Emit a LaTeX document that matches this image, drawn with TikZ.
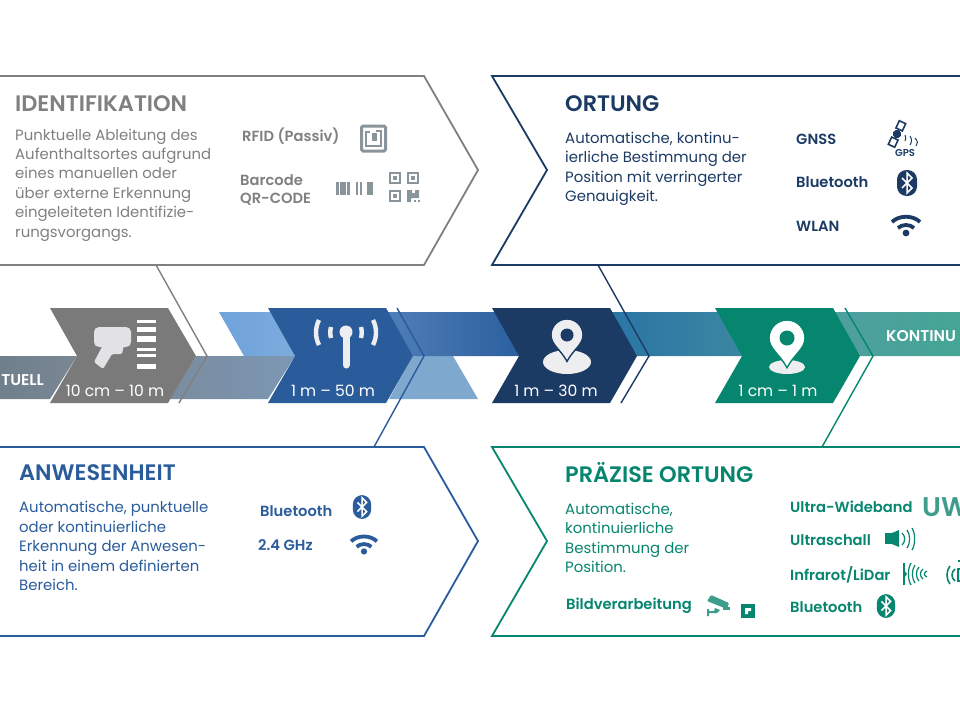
\documentclass[tikz,border=0pt]{standalone}
\usepackage{fontspec}
\setmainfont{Poppins}[BoldFont={Poppins SemiBold}]
\usetikzlibrary{arrows.meta, arrows}
\definecolor{grayline}{HTML}{808080}
\definecolor{grayicon}{HTML}{8A949B}
\definecolor{graychev}{HTML}{7A7A7A}
\definecolor{blueline}{HTML}{2A5C9C}
\definecolor{navyline}{HTML}{1C3B64}
\definecolor{tealline}{HTML}{06856F}
\definecolor{teallight}{HTML}{3F9D8C}
\definecolor{iconwhite}{HTML}{EEEEF0}
\definecolor{bandgrayA}{HTML}{6F7F8C}
\definecolor{bandgrayB}{HTML}{7A8894}
\definecolor{bandmidA}{HTML}{7A8C9F}
\definecolor{bandmidB}{HTML}{7C97B5}
\definecolor{bandlightA}{HTML}{6FA3DB}
\definecolor{bandlightB}{HTML}{7DABDC}
\definecolor{bandlow}{HTML}{7FA8CF}
\definecolor{bandblueA}{HTML}{4F7FB8}
\definecolor{bandblueB}{HTML}{2C5F9F}
\definecolor{bandtealA}{HTML}{2A75A5}
\definecolor{bandtealB}{HTML}{3A87A2}
\definecolor{bandendA}{HTML}{4F9FA0}
\definecolor{bandendB}{HTML}{44A595}
\tikzset{
  boxline/.style={line width=1.8pt, line join=miter},
  boxtitle/.style={anchor=west, inner sep=0pt, font=\fontsize{22.4}{24}\selectfont\bfseries},
  bodytext/.style={anchor=west, inner sep=0pt, align=left, font=\fontsize{14.9}{19.4}\selectfont},
  techlabel/.style={anchor=west, inner sep=0pt, align=left, font=\fontsize{14.7}{18}\selectfont\bfseries},
  rangelabel/.style={inner sep=0pt, text=white, font=\fontsize{15.6}{18}\selectfont},
  bandlabel/.style={inner sep=0pt, text=white, font=\fontsize{15.6}{18}\selectfont\bfseries},
  pics/wlanicon/.style={code={
    \draw[line width=3.8pt] (-14,-4) .. controls (-7,-11) and (7,-11) .. (14,-4);
    \draw[line width=3.8pt] (-8,2) .. controls (-4,-2) and (4,-2) .. (8,2);
    \fill (0,7) circle (3.4);
  }},
  pics/btoothicon/.style={code={
    \fill[rounded corners=9.5pt] (-10,-13) rectangle (10,13);
    \draw[white, line width=1.5pt] (-5,-5) -- (5,5) -- (0,10) -- (0,-10) -- (5,-5) -- (-5,5);
  }},
  pics/pinicon/.style={code={
    \path[pic actions] (0,1.65) .. controls (-.4,.9) and (-1,.6) .. (-1,0) .. controls (-1,-.55) and (-.55,-1) .. (0,-1)
      .. controls (.55,-1) and (1,-.55) .. (1,0) .. controls (1,.6) and (.4,.9) .. (0,1.65) -- cycle;
  }}
}

\begin{document}
\begin{tikzpicture}[x=1pt, y=-1pt]
  \useasboundingbox (0,0) rectangle (960,720);
  \fill[white] (0,0) rectangle (960,720);

  % band behind the chevrons
  \shade[left color=bandgrayA, right color=bandgrayB] (0,356) -- (77,356) -- (50,399) -- (0,399) -- cycle;
  \shade[left color=bandmidA, right color=bandmidB] (170,399) -- (196,356) -- (295,356) -- (268,399) -- cycle;
  \shade[left color=bandlightA, right color=bandlightB] (219,312) -- (272,312) -- (295,356) -- (244,356) -- cycle;
  \fill[bandlow] (389,399) -- (413,356) -- (453,356) -- (478,399) -- cycle;
  \shade[left color=bandblueA, right color=bandblueB] (386,312) -- (500,312) -- (519,356) -- (413,356) -- cycle;
  \shade[left color=bandtealA, right color=bandtealB] (610,312) -- (722,312) -- (742,356) -- (637,356) -- cycle;
  \shade[left color=bandendA, right color=bandendB] (833,312) -- (960,312) -- (960,356) -- (860,356) -- cycle;

  % chevrons
  \fill[graychev] (50,308) -- (168,308) -- (196,356) -- (168,403) -- (50,403) -- (77,356) -- cycle;
  \fill[blueline] (268,308) -- (386,308) -- (413,356) -- (386,403) -- (268,403) -- (295,356) -- cycle;
  \fill[navyline] (492,308) -- (610,308) -- (637,356) -- (610,403) -- (492,403) -- (519,356) -- cycle;
  \fill[tealline] (715,308) -- (833,308) -- (860,356) -- (833,403) -- (715,403) -- (742,356) -- cycle;

  % outlined boxes
  \draw[grayline, boxline] (-5,76) -- (424,76) -- (478,170) -- (424,265) -- (-5,265);
  \draw[grayline, line width=1.4pt] (156,265) -- (207,356) -- (179,403);
  \draw[navyline, boxline] (965,76) -- (492,76) -- (547,170) -- (492,265) -- (965,265);
  \draw[navyline, line width=1.4pt] (598,265) -- (649,356) -- (621,403);
  \draw[blueline, boxline] (-5,447) -- (424,447) -- (478,541) -- (424,636) -- (-5,636);
  \draw[blueline, line width=1.4pt] (374,447) -- (424,356) -- (397,308);
  \draw[tealline, boxline] (965,447) -- (492,447) -- (547,541) -- (492,636) -- (965,636);
  \draw[tealline, line width=1.4pt] (822,447) -- (873,356) -- (845,308);

  % band labels
  \node[bandlabel, anchor=east] (bandleft) at (44,380) {TUELL};
  \node[bandlabel, anchor=west] (bandright) at (886,336) {KONTINU};
  \node[rangelabel] (rangegray) at (115,391) {10 cm – 10 m};
  \node[rangelabel] (rangeblue) at (333,391) {1 m – 50 m};
  \node[rangelabel] (rangenavy) at (556,391) {1 m – 30 m};
  \node[rangelabel] (rangeteal) at (778,391) {1 cm – 1 m};

  % scanner
  \fill[iconwhite!95!black, rounded corners=5pt] (131,327) -- (94,327) -- (94,347) -- (131,347) -- cycle;
  \fill[iconwhite!95!black, rounded corners=1.5pt] (103,345) -- (94,362) -- (103,369) -- (112,354) -- (122,354) -- (124,345) -- cycle;
  \fill[white] (137,320) rectangle (156,323);
  \fill[white] (137,327) rectangle (156,332);
  \fill[white] (137,336) rectangle (156,342);
  \fill[white] (137,348) rectangle (156,351);
  \fill[white] (137,354) rectangle (156,357);
  \fill[white] (137,364) rectangle (156,369);

  % antenna
  \fill[iconwhite] (346,332) circle (6.5);
  \draw[iconwhite, line width=7pt, line cap=round] (346,334) -- (346,365);
  \draw[iconwhite, line width=4.4pt] (319,320) .. controls (315,328) and (315,337) .. (319,345);
  \draw[iconwhite, line width=4.4pt] (331,327) .. controls (330,331) and (330,334) .. (331,338);
  \draw[iconwhite, line width=4.4pt] (361,327) .. controls (362,331) and (362,334) .. (361,338);
  \draw[iconwhite, line width=4.4pt] (373,320) .. controls (377,328) and (377,337) .. (373,345);

  % navy pin
  \fill[iconwhite] (567,362) ellipse (24 and 12);
  \pic[scale=16, fill=iconwhite, draw=navyline, line width=1.4pt] at (567,335) {pinicon};
  \fill[navyline] (567,335) circle (6.5);

  % teal pin
  \fill[iconwhite] (787,367) ellipse (18 and 7);
  \pic[scale=18, fill=white, draw=tealline, line width=1.4pt] at (787,338) {pinicon};
  \fill[tealline] (787,338) circle (7.5);

  % identifikation
  \node[boxtitle, text=grayline] (idtitle) at (15,104) {IDENTIFIKATION};
  \node[bodytext, text=grayline] (idbody) at (15,185) {Punktuelle Ableitung des\\Aufenthaltsortes aufgrund\\eines manuellen oder\\über externe Erkennung\\eingeleiteten Identifizie-\\rungsvorgangs.};
  \node[techlabel, text=grayline] (idrfid) at (242,136) {RFID (Passiv)};
  \node[techlabel, text=grayline] (idcode) at (240,190) {Barcode\\QR-CODE};
  % rfid tag
  \draw[grayicon, line width=3pt, rounded corners=1.5pt] (361.5,126) rectangle (385.5,151);
  \draw[grayicon, line width=1.8pt] (370,132) -- (366,132) -- (366,146) -- (381,146) -- (381,131) -- (376,131);
  \fill[grayicon] (372,133) rectangle (377,141);
  % barcode
  \foreach \barx/\barw in {336/3, 339.5/3, 343/3, 346.5/3, 355.5/2, 360/2, 367/5.5}
    \fill[grayicon] (\barx,182) rectangle ++(\barw,13);
  % qr
  \foreach \qrx/\qry in {389/172, 407/172, 389/190}{
    \draw[grayicon, line width=2.4pt] (\qrx+1,\qry+1) rectangle ++(10,10);
    \fill[grayicon] (\qrx+4,\qry+4) rectangle ++(4,4);
  }
  \fill[grayicon] (407,190) -- (412,190) -- (412,193) -- (415,193) -- (415,190) -- (419,190) -- (419,198) -- (411,198) -- (411,202) -- (407,202) -- cycle;
  \fill[grayicon] (414,200) rectangle ++(2,2);
  \fill[grayicon] (418,200) rectangle ++(2,2);

  % ortung
  \node[boxtitle, text=navyline] (ortitle) at (565,104) {ORTUNG};
  \node[bodytext, text=navyline] (orbody) at (565,169) {Automatische, kontinu-\\ierliche Bestimmung der\\Position mit verringerter\\Genauigkeit.};
  \node[techlabel, text=navyline] (orgnss) at (796,139) {GNSS};
  \node[techlabel, text=navyline] (orblue) at (796,182) {Bluetooth};
  \node[techlabel, text=navyline] (orwlan) at (796,226) {WLAN};
  % gps satellite
  \begin{scope}[navyline, shift={(897,134)}, rotate=-25]
    \draw[line width=1.6pt] (-3.5,-13) rectangle (3.5,-5);
    \draw[line width=1.6pt] (-3.5,5) rectangle (3.5,13);
    \fill (0,0) circle (4.2);
  \end{scope}
  \draw[navyline, line width=1pt] (905,135) .. controls (906,137) and (906,139) .. (905,141);
  \draw[navyline, line width=1pt] (910,136) .. controls (912,139) and (912,142) .. (910,145);
  \draw[navyline, line width=1pt] (915,138) .. controls (918,141) and (918,144) .. (916,146);
  \node[navyline, inner sep=0pt, font=\fontsize{10}{10}\selectfont\bfseries] (orgps) at (905,153) {GPS};
  \pic[navyline] at (907,183) {btoothicon};
  \pic[navyline] at (906,226) {wlanicon};

  % anwesenheit
  \node[boxtitle, text=blueline] (antitle) at (19,473) {ANWESENHEIT};
  \node[bodytext, text=blueline] (anbody) at (19,546) {Automatische, punktuelle\\oder kontinuierliche\\Erkennung der Anwesen-\\heit in einem definierten\\Bereich.};
  \node[techlabel, text=blueline] (anblue) at (260,511) {Bluetooth};
  \node[techlabel, text=blueline] (anghz) at (258,545) {2.4 GHz};
  \pic[blueline, scale=.92] at (362,507) {btoothicon};
  \pic[blueline, scale=.92] at (364,545) {wlanicon};

  % praezise ortung
  \node[boxtitle, text=tealline] (prtitle) at (565,473) {PRÄZISE ORTUNG};
  \node[bodytext, text=tealline] (prbody) at (565,538) {Automatische,\\kontinuierliche\\Bestimmung der\\Position.};
  \node[techlabel, text=tealline] (prbild) at (566,606) {Bildverarbeitung};
  \node[techlabel, text=tealline] (pruwb) at (790,507) {Ultra-Wideband};
  \node[techlabel, text=tealline] (prschall) at (790,540) {Ultraschall};
  \node[techlabel, text=tealline] (prlidar) at (790,575) {Infrarot/LiDar};
  \node[techlabel, text=tealline] (prblue) at (790,607) {Bluetooth};
  \node[anchor=west, inner sep=0pt, text=teallight, font=\fontsize{27}{30}\selectfont\bfseries] (pruw) at (922,507) {UW};
  % camera
  \fill[teallight, rounded corners=1pt] (711,595) -- (729,603) -- (727,609) -- (707,601) -- cycle;
  \fill[teallight] (715,608) -- (720,610) -- (717,613) -- (709,613) -- (709,616) -- (707,616) -- (707,609) -- (709,609) -- (709,611) -- (714,611) -- cycle;
  \fill[teallight] (723,607) -- (730,607) -- (730,610) -- (723,610) -- cycle;
  \fill[tealline] (741,604) rectangle (755,618);
  \fill[white] (745,608) -- (751,608) -- (751,611) -- (748,611) -- (748,614) -- (745,614) -- cycle;
  % speaker
  \fill[tealline] (885,533) rectangle (892,544);
  \fill[tealline] (892,533) -- (899,530) -- (899,547) -- (892,544) -- cycle;
  \foreach \spx/\spy in {902/6, 907/9, 912/11}
    \draw[tealline, line width=1.2pt] (\spx,539-\spy) .. controls (\spx+3.5,539-\spy/2) and (\spx+3.5,539+\spy/2) .. (\spx,539+\spy);
  % lidar waves
  \draw[tealline, line width=1.6pt] (904,563) -- (904,585);
  \fill[tealline] (904,570) -- (907,574) -- (904,578) -- cycle;
  \foreach \irx/\iry in {911/11, 915/9, 919/7, 923/5, 927/3}
    \draw[tealline, line width=1.2pt] (\irx,574-\iry) .. controls (\irx-3.5,574-\iry/2) and (\irx-3.5,574+\iry/2) .. (\irx,574+\iry);
  \foreach \irx/\iry in {950/9, 955/6}
    \draw[tealline, line width=1.6pt] (\irx,575-\iry) .. controls (\irx-4,575-\iry/2) and (\irx-4,575+\iry/2) .. (\irx,575+\iry);
  \draw[tealline, line width=1.8pt] (958,569) rectangle (965,581);
  \fill[tealline] (958,560) rectangle (960,562);
  \pic[tealline, scale=.92] at (886,606) {btoothicon};
\end{tikzpicture}
\end{document}
